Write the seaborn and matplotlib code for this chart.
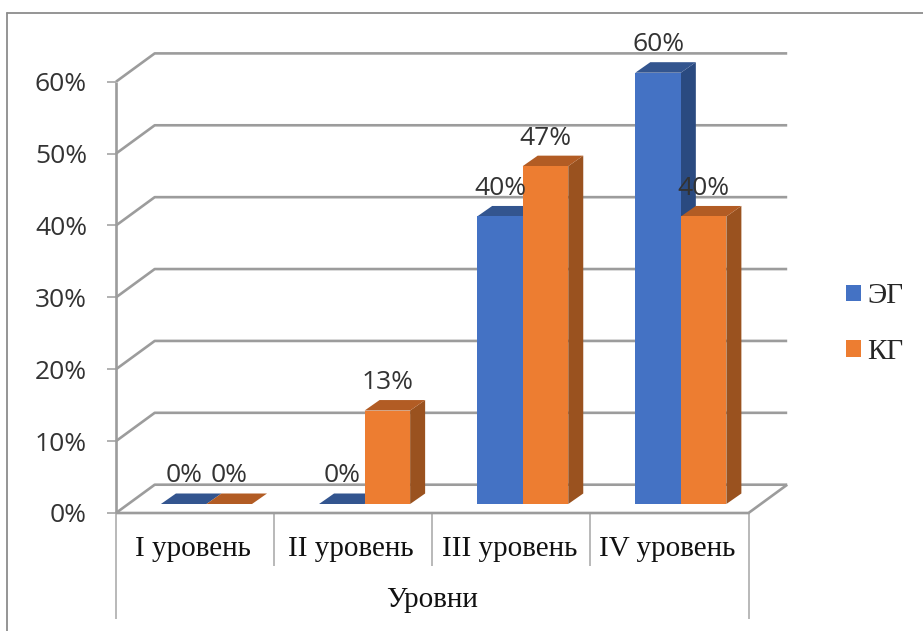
import matplotlib
matplotlib.use("Agg")
import matplotlib.pyplot as plt
from matplotlib.lines import Line2D
from matplotlib.patches import Polygon, Rectangle
import pandas as pd
import seaborn as sns

categories = ["I уровень", "II уровень", "III уровень", "IV уровень"]
series_names = ["ЭГ", "КГ"]
eg_values = [0, 0, 40, 60]
kg_values = [0, 13, 47, 40]
y_ticks = [0, 10, 20, 30, 40, 50, 60]
axis_title = "Уровни"
face_colors = ["#4472C4", "#ED7D31"]
side_colors = ["#2A4A80", "#9A521F"]
top_colors = ["#33558F", "#B25C24"]
SERIF = "Liberation Serif"
SANS = "Open Sans"
GRID = "#9C9C9C"

W, H = 923, 631
df = pd.DataFrame({
    "Уровень": categories * 2,
    "Серия": [series_names[0]] * 4 + [series_names[1]] * 4,
    "Значение": eg_values + kg_values,
})

sns.set_theme(style="white")
fig = plt.figure(figsize=(W / 100, H / 100), dpi=100, facecolor="white")

# Plot area: the plane on which the front faces of the bars stand
left, right, base, top = 127.4, 759.9, 504.0, 72.7
ax = fig.add_axes([left / W, 1 - base / H, (right - left) / W, (base - top) / H])
sns.barplot(data=df, x="Уровень", y="Значение", hue="Серия", palette=face_colors,
            hue_order=series_names, order=categories, width=0.576, saturation=1,
            legend=False, ax=ax, zorder=3, linewidth=0)
ax.set_xlim(-0.5, 3.5)
ax.set_ylim(0, 60)
ax.patch.set_alpha(0)
for s in ax.spines.values():
    s.set_visible(False)
ax.set_xticks([]); ax.set_yticks([])
ax.set_xlabel(""); ax.set_ylabel("")

ux = 4 / (right - left)       # data units per pixel, horizontally
uy = 60 / (base - top)        # data units per pixel, vertically
front_dx, front_dy = -11.4, -9.0   # from bar plane to the front edge of the floor
back_dx, back_dy = 27.3, 19.3      # from bar plane to the back wall
bar_dx, bar_dy = 15.0, 10.5        # depth of a bar


def line(xs, ys, color=GRID, lw=1.9, z=1):
    ax.plot(xs, ys, color=color, lw=lw, clip_on=False, zorder=z, solid_capstyle="butt")


x_front_l = -0.5 + front_dx * ux
x_front_r = 3.5 + front_dx * ux
x_back_l = -0.5 + back_dx * ux
x_back_r = 3.5 + back_dx * ux

# Walls and floor
for t in y_ticks:
    yf = t + front_dy * uy
    yb = t + back_dy * uy
    line([x_front_l, x_back_l, x_back_r], [yf, yb, yb])
    line([x_front_l - 9 * ux, x_front_l], [yf, yf], lw=1.1)
    ax.text(x_front_l - 29 * ux, yf, f"{t}%", ha="right", va="center_baseline",
            fontsize=19, family=SANS, color="#333333", clip_on=False)
y0f = 0 + front_dy * uy
y0b = 0 + back_dy * uy
line([x_front_l, x_front_l], [y0f, 60 + front_dy * uy])
line([x_front_l, x_front_r, x_back_r], [y0f, y0f, y0b], z=2)

# Category separators below the floor
step = (x_front_r - x_front_l) / 4
for i in range(5):
    outer = i in (0, 4)
    drop = 106 if outer else 53
    xp = x_front_l + i * step
    line([xp, xp], [y0f, y0f - drop * uy], color="#A6A6A6", lw=1.1)
for i, c in enumerate(categories):
    ax.text(i + (front_dx - 2) * ux, y0f - 36 * uy, c, ha="center", va="center",
            fontsize=21, family=SERIF, color="#111111", clip_on=False)
ax.text((x_front_l + x_front_r) / 2, y0f - 87 * uy, axis_title, ha="center", va="center",
        fontsize=21, family=SERIF, color="#111111", clip_on=False)

# Side and top faces, and value labels, built from the bars seaborn drew
dx, dy = bar_dx * ux, bar_dy * uy
for k, container in enumerate(ax.containers):
    for rect in container:
        x0, w, h = rect.get_x(), rect.get_width(), rect.get_height()
        x1 = x0 + w
        z = 3 + k
        rect.set_zorder(z + 0.2)
        ax.add_patch(Polygon([(x1, 0), (x1 + dx, dy), (x1 + dx, h + dy), (x1, h)],
                             fc=side_colors[k], ec="none", zorder=z, clip_on=False))
        ax.add_patch(Polygon([(x0, h), (x0 + dx, h + dy), (x1 + dx, h + dy), (x1, h)],
                             fc=top_colors[k], ec="none", zorder=z + 0.1, clip_on=False))
        ax.annotate(f"{h:.0f}%", (x0 + w / 2, h), xytext=(0, 31 * 0.72), textcoords="offset points",
                    ha="center", va="center_baseline", fontsize=19, family=SANS, color="#333333",
                    zorder=10, annotation_clip=False)

# Legend
handles = [Rectangle((0, 0), 1, 1, fc=c, ec="none") for c in face_colors]
fig.legend(handles, series_names, loc="center left", bbox_to_anchor=(846 / W, 1 - 324 / H),
           frameon=False, prop={"family": SERIF, "size": 21}, handlelength=0.51, handleheight=0.51,
           handletextpad=0.22, labelspacing=1.0, borderpad=0, borderaxespad=0)

# Chart frame: only its top and left edges fall inside the canvas
for xs, ys in (([7.5, 7.5], [631, 13]), ([7.5, 923], [13, 13])):
    fig.add_artist(Line2D([v / W for v in xs], [1 - v / H for v in ys],
                          transform=fig.transFigure, color="#8C8C8C", lw=1.3))

fig.savefig("out.png", dpi=100)
